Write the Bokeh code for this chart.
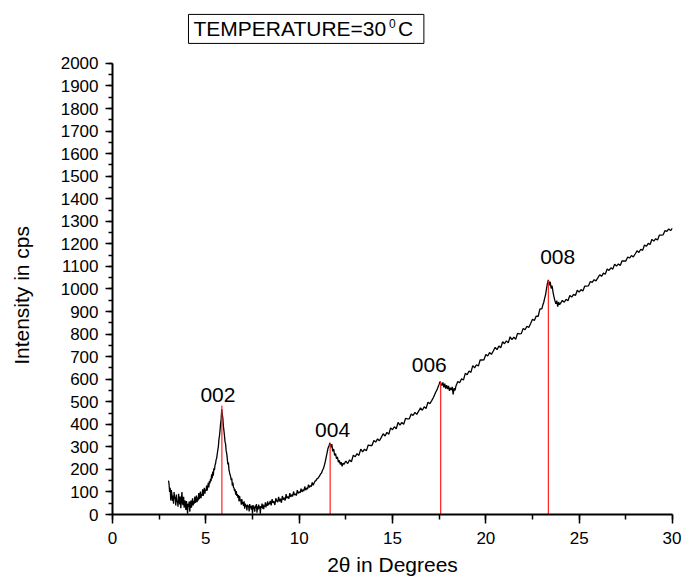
from bokeh.plotting import figure
from bokeh.models import Range1d, SingleIntervalTicker, Label, LabelSet, ColumnDataSource
from bokeh.core.properties import value
from bokeh.embed import file_html
from bokeh.resources import INLINE

# ---- data ----
two_theta = [
    3.00, 3.03, 3.06, 3.09, 3.12, 3.15, 3.18, 3.21, 3.24, 3.27, 3.30, 3.33, 3.36, 3.39, 3.42, 3.45,
    3.48, 3.51, 3.54, 3.57, 3.60, 3.63, 3.66, 3.69, 3.72, 3.75, 3.78, 3.81, 3.84, 3.87, 3.90, 3.93,
    3.96, 3.99, 4.02, 4.05, 4.08, 4.11, 4.14, 4.17, 4.20, 4.23, 4.26, 4.29, 4.32, 4.35, 4.38, 4.41,
    4.44, 4.47, 4.50, 4.53, 4.56, 4.59, 4.62, 4.65, 4.68, 4.71, 4.74, 4.77, 4.80, 4.83, 4.86, 4.89,
    4.92, 4.95, 4.98, 5.01, 5.04, 5.07, 5.10, 5.13, 5.16, 5.19, 5.22, 5.25, 5.28, 5.31, 5.34, 5.37,
    5.40, 5.43, 5.46, 5.49, 5.52, 5.55, 5.58, 5.61, 5.64, 5.67, 5.70, 5.73, 5.76, 5.79, 5.82, 5.85,
    5.88, 5.91, 5.94, 5.97, 6.00, 6.03, 6.06, 6.09, 6.12, 6.15, 6.18, 6.21, 6.24, 6.27, 6.30, 6.33,
    6.36, 6.39, 6.42, 6.45, 6.48, 6.51, 6.54, 6.57, 6.60, 6.63, 6.66, 6.69, 6.72, 6.75, 6.78, 6.81,
    6.84, 6.87, 6.90, 6.93, 6.96, 6.99, 7.02, 7.05, 7.08, 7.11, 7.14, 7.17, 7.20, 7.23, 7.26, 7.29,
    7.32, 7.35, 7.38, 7.41, 7.44, 7.47, 7.50, 7.53, 7.56, 7.59, 7.62, 7.65, 7.68, 7.71, 7.74, 7.77,
    7.80, 7.83, 7.86, 7.89, 7.92, 7.95, 7.98, 8.01, 8.04, 8.07, 8.10, 8.13, 8.16, 8.19, 8.22, 8.25,
    8.28, 8.31, 8.34, 8.37,
    8.40, 8.45, 8.50, 8.55, 8.60, 8.65, 8.70, 8.75, 8.80, 8.85, 8.90, 8.95,
    9.00, 9.05, 9.10, 9.15, 9.20, 9.25, 9.30, 9.35, 9.40, 9.45, 9.50, 9.55,
    9.60, 9.65, 9.70, 9.75, 9.80, 9.85, 9.90, 9.95, 10.00, 10.05, 10.10, 10.15,
    10.20, 10.25, 10.30, 10.35, 10.40, 10.45, 10.50, 10.55, 10.60, 10.65, 10.70, 10.75,
    10.80, 10.85, 10.90, 10.95, 11.00, 11.05, 11.10, 11.15, 11.20, 11.25, 11.30, 11.35,
    11.40, 11.45, 11.50, 11.55, 11.60, 11.65, 11.70, 11.75, 11.80, 11.85, 11.90, 11.95,
    12.00, 12.05, 12.10, 12.15, 12.20, 12.25, 12.30, 12.35,
    12.4, 12.5, 12.6, 12.7, 12.8, 12.9, 13.0, 13.1, 13.2, 13.3, 13.4, 13.5, 13.6, 13.7, 13.8, 13.9,
    14.0, 14.1, 14.2, 14.3, 14.4, 14.5, 14.6, 14.7, 14.8, 14.9, 15.0, 15.1, 15.2, 15.3, 15.4, 15.5,
    15.6, 15.7, 15.8, 15.9, 16.0, 16.1, 16.2, 16.3, 16.4, 16.5, 16.6, 16.7, 16.8, 16.9, 17.0,
    17.1, 17.2, 17.3, 17.4, 17.5, 17.55, 17.6, 17.65, 17.7, 17.75, 17.8, 17.85, 17.9, 17.95,
    18.0, 18.05, 18.1, 18.15, 18.2, 18.25, 18.3, 18.35,
    18.4, 18.5, 18.6, 18.7, 18.8, 18.9, 19.0, 19.1, 19.2, 19.3, 19.4, 19.5, 19.6, 19.7, 19.8, 19.9,
    20.0, 20.1, 20.2, 20.3, 20.4, 20.5, 20.6, 20.7, 20.8, 20.9, 21.0, 21.1, 21.2, 21.3, 21.4, 21.5,
    21.6, 21.7, 21.8, 21.9, 22.0, 22.1, 22.2, 22.3, 22.4, 22.5, 22.6, 22.7, 22.8, 22.9, 23.0,
    23.05, 23.1, 23.15, 23.2, 23.25, 23.3, 23.35, 23.4, 23.45, 23.5, 23.55, 23.6, 23.65, 23.7,
    23.75, 23.8, 23.85, 23.9, 23.95,
    24.0, 24.1, 24.2, 24.3, 24.4, 24.5, 24.6, 24.7, 24.8, 24.9, 25.0, 25.1, 25.2, 25.3, 25.4, 25.5,
    25.6, 25.7, 25.8, 25.9, 26.0, 26.1, 26.2, 26.3, 26.4, 26.5, 26.6, 26.7, 26.8, 26.9, 27.0, 27.1,
    27.2, 27.3, 27.4, 27.5, 27.6, 27.7, 27.8, 27.9, 28.0, 28.1, 28.2, 28.3, 28.4, 28.5, 28.6, 28.7,
    28.8, 28.9, 29.0, 29.1, 29.2, 29.3, 29.4, 29.5, 29.6, 29.7, 29.8, 29.9, 30.0,
]

intensity = [
    150, 135, 100, 118, 62, 108, 92, 60, 84, 48, 100, 70, 78, 40, 88, 55,
    62, 35, 92, 70, 45, 80, 28, 66, 100, 50, 42, 78, 30, 62, 55, 20,
    60, 40, 3, 48, 35, 58, 12, 44, 62, 30, 52, 72, 40, 58, 48, 80,
    52, 66, 84, 55, 75, 62, 95, 68, 80, 102, 72, 90, 84, 112, 82, 100,
    118, 92, 110, 104, 128, 106, 122, 140, 120, 148, 138, 158, 148, 178, 160, 190,
    172, 205, 196, 218, 226, 242, 250, 268, 285, 300, 332, 348, 372, 402, 422, 468,
    445, 428, 392, 372, 348, 322, 312, 282, 270, 248, 222, 230, 198, 186, 176, 168,
    152, 160, 128, 142, 120, 118, 104, 112, 88, 104, 82, 90, 74, 86, 58, 82,
    62, 66, 44, 68, 46, 55, 38, 58, 26, 48, 36, 42, 18, 44, 35, 40,
    14, 46, 28, 38, 22, 40, 4, 42, 26, 34, 12, 40, 30, 46, 8, 36,
    22, 44, 28, 36, 4, 38, 30, 48, 26, 44, 24, 40, 36, 54, 32, 48,
    38, 58, 40, 52,
    45, 60, 40, 68, 52, 58, 42, 72, 60, 55, 78, 58,
    70, 52, 82, 66, 74, 62, 90, 72, 80, 70, 95, 78,
    88, 80, 102, 86, 92, 84, 108, 94, 100, 96, 115, 100,
    110, 104, 124, 108, 118, 112, 132, 120, 128, 124, 142, 130,
    140, 148, 150, 158, 160, 166, 172, 180, 184, 196, 204, 218,
    235, 255, 275, 295, 305, 318, 298, 312, 280, 290, 262, 270,
    248, 255, 232, 240, 222, 232, 214, 228,
    222, 237, 226, 242, 234, 263, 256, 270, 262, 290, 278, 290, 282, 308, 306, 306,
    328, 321, 335, 327, 342, 358, 348, 364, 356, 384, 376, 389, 380, 408, 396, 408,
    400, 426, 424, 424, 446, 439, 453, 444, 458, 473, 462, 478, 470, 498, 491,
    505, 520, 540, 556, 578, 590, 580, 572, 586, 564, 580, 558, 574, 556,
    570, 548, 562, 552, 566, 532, 560, 550,
    570, 590, 584, 602, 596, 626, 620, 636, 630, 660, 650, 664, 658, 686, 685, 686,
    709, 703, 718, 710, 725, 741, 731, 747, 739, 766, 757, 770, 761, 788, 775, 786,
    777, 803, 801, 802, 825, 819, 835, 829, 847, 866, 860, 880, 878, 912, 912,
    928, 940, 958, 975, 1000, 1025, 1040, 1016, 1032, 1002, 1014, 986, 965, 948,
    934, 948, 922, 942, 930,
    936, 949, 941, 954, 948, 971, 964, 976, 971, 994, 986, 997, 991, 1013, 1013, 1014,
    1033, 1029, 1041, 1036, 1049, 1063, 1056, 1070, 1065, 1089, 1082, 1094, 1088, 1110, 1101, 1111,
    1104, 1125, 1124, 1124, 1142, 1137, 1148, 1142, 1155, 1169, 1162, 1176, 1171, 1195, 1189, 1202,
    1197, 1220, 1212, 1223, 1217, 1239, 1239, 1240, 1259, 1255, 1266, 1259, 1270,
]

peak_pos = [5.86, 11.66, 17.58, 23.35]
peak_top = [483, 316, 587, 1038]
peak_names = ["002", "004", "006", "008"]

assert len(two_theta) == len(intensity), (len(two_theta), len(intensity))

# annotation anchors (layout)
label_x = [5.65, 11.79, 16.97, 23.85]
label_y = [499, 342, 632, 1112]

FONT = "Liberation Sans"
NB = "\u00a0"
PAD = NB * 13  # shifts the centred y-axis title downwards

p = figure(width=681, height=582, output_backend="svg", toolbar_location=None,
           x_range=Range1d(0, 30), y_range=Range1d(0, 2279),
           min_border_left=112, min_border_right=9, min_border_top=0, min_border_bottom=68,
           x_axis_label="2θ in Degrees", y_axis_label="Intensity in cps" + PAD)
p.outline_line_color = None
p.grid.visible = False
p.background_fill_color = "white"
p.border_fill_color = "white"

p.xaxis.ticker = SingleIntervalTicker(interval=5, num_minor_ticks=2)
p.yaxis.ticker = SingleIntervalTicker(interval=100, num_minor_ticks=2)
p.yaxis.bounds = (0, 2000)

for ax in p.axis:
    ax.axis_line_color = "black"
    ax.axis_line_width = 2
    ax.major_tick_line_color = "black"
    ax.major_tick_line_width = 1.5
    ax.minor_tick_line_color = "black"
    ax.minor_tick_line_width = 1.5
    ax.major_tick_in = 0
    ax.minor_tick_in = 0
    ax.major_label_text_font = FONT
    ax.major_label_text_font_size = "17px"
    ax.major_label_text_color = "black"
    ax.axis_label_text_font = FONT
    ax.axis_label_text_font_size = "21px"
    ax.axis_label_text_font_style = "normal"
    ax.axis_label_text_color = "black"

p.xaxis.major_tick_out = 9
p.xaxis.minor_tick_out = 5
p.xaxis.major_label_standoff = 8
p.xaxis.axis_label_standoff = 6
p.yaxis.major_tick_out = 7
p.yaxis.minor_tick_out = 4
p.yaxis.major_label_standoff = 7
p.yaxis.axis_label_standoff = 25

p.line(two_theta, intensity, line_color="black", line_width=1.3)
p.segment(x0=peak_pos, y0=[0] * len(peak_pos), x1=peak_pos, y1=peak_top,
          line_color="#ff2020", line_width=1.2)

src = ColumnDataSource(dict(x=label_x, y=label_y, t=peak_names))
p.add_layout(LabelSet(x="x", y="y", text="t", source=src, text_align="center",
                      text_baseline="alphabetic", text_font=value(FONT),
                      text_font_size=value("21px"), text_color="black"))

p.add_layout(Label(x=4.07, y=2153, text="TEMPERATURE=30" + NB + NB + "C" + NB,
                   text_font=FONT, text_font_size="21px", text_baseline="alphabetic",
                   text_color="black", border_line_color="black", border_line_width=1,
                   background_fill_color="white",
                   padding=dict(left=5, right=5, top=3, bottom=3)))
p.add_layout(Label(x=14.81, y=2175, text="0", text_font=FONT, text_font_size="12px",
                   text_baseline="alphabetic", text_color="black"))

open("out.html", "w").write(file_html(p, INLINE))
